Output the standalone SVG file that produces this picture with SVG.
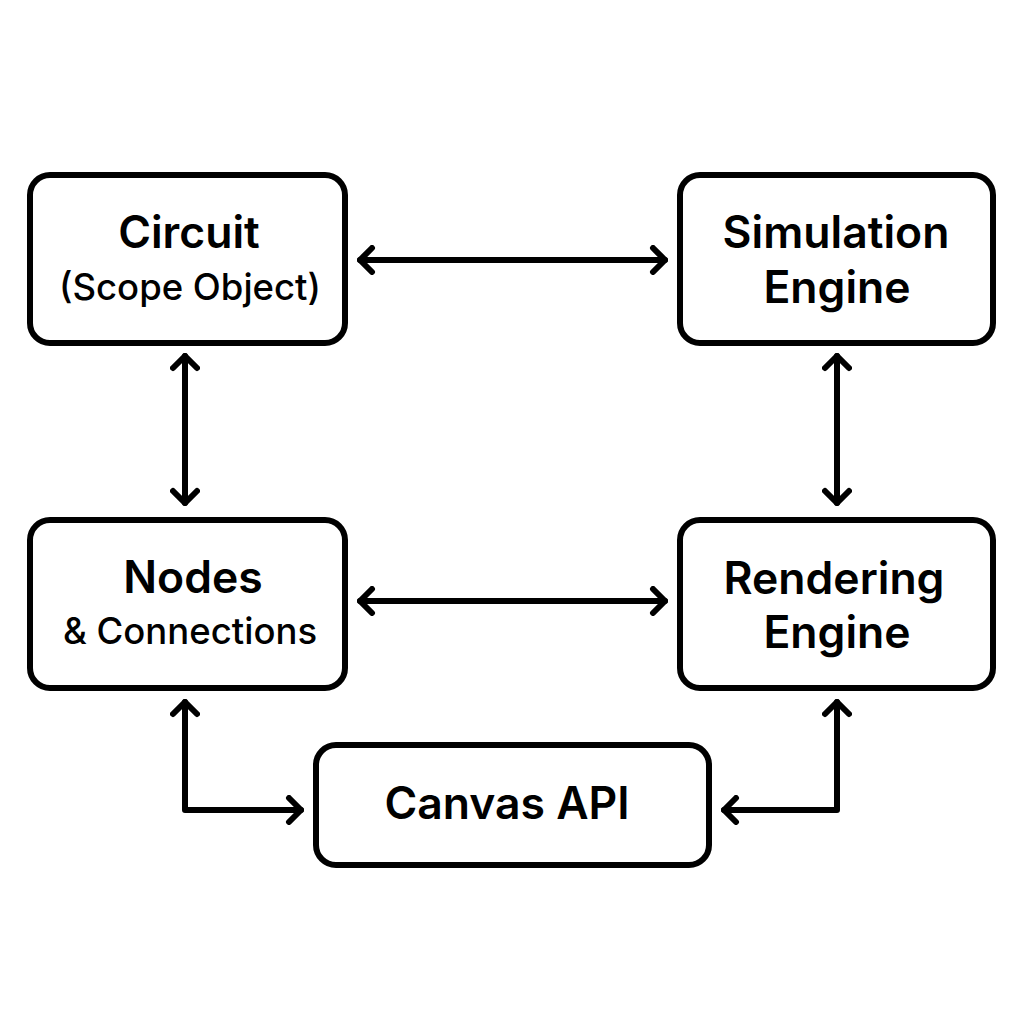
<svg xmlns="http://www.w3.org/2000/svg" width="1024" height="1024" viewBox="0 0 1024 1024">
<defs>
<style>
.box{fill:#fff;stroke:#000;stroke-width:6}
.t{font-family:Inter,"Liberation Sans",sans-serif;font-weight:600;fill:#000;text-anchor:middle}
.big{font-size:44.5px}
.small{font-size:36.5px;font-weight:500}
.c{fill:none;stroke:#000;stroke-width:6;stroke-linecap:round;stroke-linejoin:round}
</style>
<marker id="ah" viewBox="0 0 20 30" refX="17" refY="15" markerWidth="20" markerHeight="30" markerUnits="userSpaceOnUse" orient="auto-start-reverse">
<path d="M5,3 L17,15 L5,27" fill="none" stroke="#000" stroke-width="6" stroke-linecap="round" stroke-linejoin="round"/>
</marker>
</defs>
<rect width="1024" height="1024" fill="#fff"/>
<g id="connectors">
<line class="c" x1="360" y1="260" x2="665" y2="260" marker-start="url(#ah)" marker-end="url(#ah)"/>
<line class="c" x1="360" y1="601" x2="665" y2="601" marker-start="url(#ah)" marker-end="url(#ah)"/>
<line class="c" x1="185" y1="356" x2="185" y2="503" marker-start="url(#ah)" marker-end="url(#ah)"/>
<line class="c" x1="837" y1="356" x2="837" y2="503" marker-start="url(#ah)" marker-end="url(#ah)"/>
<polyline class="c" points="185,702 185,810 301,810" marker-start="url(#ah)" marker-end="url(#ah)"/>
<polyline class="c" points="837,702 837,810 724,810" marker-start="url(#ah)" marker-end="url(#ah)"/>
</g>
<g id="circuit">
<rect class="box" x="30" y="175" width="315" height="168" rx="20"/>
<text class="t big" x="189" y="248">Circuit</text>
<text class="t small" x="190" y="300">(Scope Object)</text>
</g>
<g id="simulation">
<rect class="box" x="680" y="175" width="313" height="168" rx="20"/>
<text class="t big" x="836" y="248">Simulation</text>
<text class="t big" x="837" y="303">Engine</text>
</g>
<g id="nodes">
<rect class="box" x="30" y="520" width="315" height="168" rx="20"/>
<text class="t big" x="193" y="593">Nodes</text>
<text class="t small" x="190" y="644">&amp; Connections</text>
</g>
<g id="rendering">
<rect class="box" x="680" y="520" width="313" height="168" rx="20"/>
<text class="t big" x="834" y="594">Rendering</text>
<text class="t big" x="837" y="648">Engine</text>
</g>
<g id="canvas">
<rect class="box" x="316" y="745" width="393" height="120" rx="20"/>
<text class="t big" x="507" y="819">Canvas API</text>
</g>
</svg>
